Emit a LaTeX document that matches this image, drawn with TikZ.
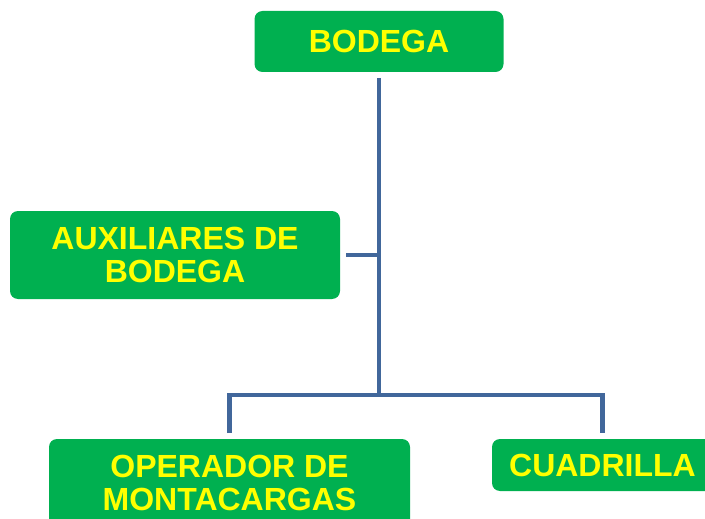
\documentclass[tikz,border=0pt]{standalone}
\usepackage{fontspec}
\setmainfont{Liberation Sans}
\definecolor{boxgreen}{HTML}{00B050}
\definecolor{txtyellow}{HTML}{FFFF00}
\definecolor{linkblue}{HTML}{41679B}
\begin{document}
\begin{tikzpicture}[x=1pt,y=-1pt,
  orgbox/.style={fill=boxgreen, draw=none, rounded corners=8pt, text=txtyellow,
    font=\bfseries\fontsize{32}{33}\selectfont, align=center, inner sep=0pt, outer sep=6pt},
  conn/.style={draw=linkblue, line width=4.5pt}]
\useasboundingbox (0,0) rectangle (705,519);
\clip (0,0) rectangle (705,519);
\node[orgbox, minimum width=249pt, minimum height=61pt] (bodega) at (379,41.5) {BODEGA};
\node[orgbox, minimum width=330pt, minimum height=88pt] (aux) at (175,255) {AUXILIARES DE\\BODEGA};
\node[orgbox, minimum width=361pt, minimum height=88pt] (op) at (229.5,483) {OPERADOR DE\\MONTACARGAS};
\node[orgbox, minimum width=221pt, minimum height=52pt] (cuad) at (602.5,465) {CUADRILLA};
\coordinate (j) at (379,395);
\draw[conn] (bodega.south) -- (j);
\draw[conn] (aux.east) -- (aux.east -| j);
\draw[conn] (op.north) |- (j) -| (cuad.north);
\end{tikzpicture}
\end{document}
